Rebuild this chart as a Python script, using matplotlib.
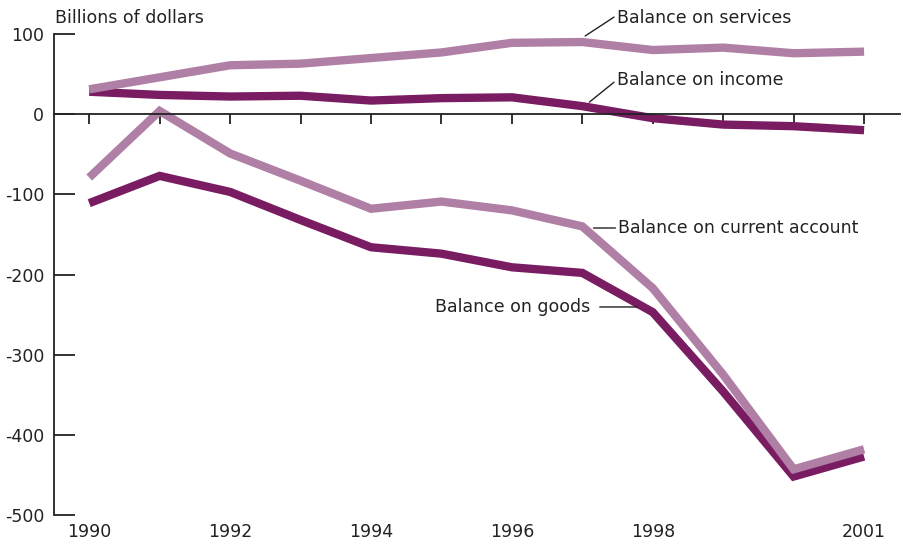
import matplotlib
matplotlib.use("Agg")
import matplotlib.pyplot as plt

# --- Data (billions of dollars) ---
years = [1990, 1991, 1992, 1993, 1994, 1995, 1996, 1997, 1998, 1999, 2000, 2001]
services = [31, 46, 61, 63, 70, 77, 89, 90, 80, 83, 76, 78]
income = [28, 24, 22, 23, 17, 20, 21, 10, -5, -13, -15, -20]
current_account = [-79, 4, -49, -83, -118, -109, -120, -140, -217, -325, -443, -418]
goods = [-111, -77, -97, -132, -166, -174, -191, -198, -247, -346, -452, -427]

yticks = [100, 0, -100, -200, -300, -400, -500]
xlabel_years = [1990, 1992, 1994, 1996, 1998, 2001]

LIGHT = "#B07FA5"
DARK = "#7A1C62"
TXT = "#222222"

plt.rcParams.update({"font.family": "DejaVu Sans", "font.size": 12.5})

fig = plt.figure(figsize=(9.04, 5.48), dpi=100)
ax = fig.add_axes([54 / 904, 33 / 548, 846 / 904, 481 / 548])
ax.set_xlim(1989.5, 2001.51)
ax.set_ylim(-500, 100)

lw = 6
ax.plot(years, income, color=DARK, lw=lw, solid_joinstyle="miter", solid_capstyle="butt")
ax.plot(years, services, color=LIGHT, lw=lw, solid_joinstyle="miter", solid_capstyle="butt")
ax.plot(years, goods, color=DARK, lw=lw, solid_joinstyle="miter", solid_capstyle="butt")
ax.plot(years, current_account, color=LIGHT, lw=lw, solid_joinstyle="miter", solid_capstyle="butt")

# axes styling
for s in ["top", "right"]:
    ax.spines[s].set_visible(False)
ax.spines["left"].set_linewidth(1.3)
ax.spines["left"].set_color(TXT)
ax.spines["bottom"].set_position(("data", 0))
ax.spines["bottom"].set_linewidth(1.3)
ax.spines["bottom"].set_color(TXT)

ax.set_yticks(yticks)
ax.set_yticklabels([str(v) for v in yticks], color=TXT)
ax.tick_params(axis="y", direction="in", length=15, width=1.3, pad=7, color=TXT)
ax.set_xticks(years)
ax.set_xticklabels([])
ax.tick_params(axis="x", direction="out", length=7.5, width=1.3, color=TXT)

for y in xlabel_years:
    ax.text(y, -0.035, str(y), transform=ax.get_xaxis_transform(),
            ha="center", va="center", color=TXT)

fig.text(55 / 904, 1 - 18 / 548, "Billions of dollars", ha="left", va="center", color=TXT)

# labels with leader lines
ax.annotate("Balance on services", xy=(1997.04, 97.5), xytext=(1997.49, 120),
            ha="left", va="center", color=TXT, annotation_clip=False,
            arrowprops=dict(arrowstyle="-", color=TXT, lw=1, shrinkA=0, shrinkB=0,
                            relpos=(0, 0.65)))
ax.annotate("Balance on income", xy=(1997.10, 15), xytext=(1997.49, 42.7),
            ha="left", va="center", color=TXT, annotation_clip=False,
            arrowprops=dict(arrowstyle="-", color=TXT, lw=1, shrinkA=0, shrinkB=0,
                            relpos=(0, 0.5)))
ax.annotate("Balance on current account", xy=(1997.14, -142), xytext=(1997.51, -142),
            ha="left", va="center", color=TXT, annotation_clip=False,
            arrowprops=dict(arrowstyle="-", color=TXT, lw=1, shrinkA=0, shrinkB=1))
ax.annotate("Balance on goods", xy=(1997.78, -240.5), xytext=(1997.11, -240.5),
            ha="right", va="center", color=TXT, annotation_clip=False,
            arrowprops=dict(arrowstyle="-", color=TXT, lw=1, shrinkA=5, shrinkB=0,
                            relpos=(1, 0.5)))

fig.savefig("out.png", dpi=100)
